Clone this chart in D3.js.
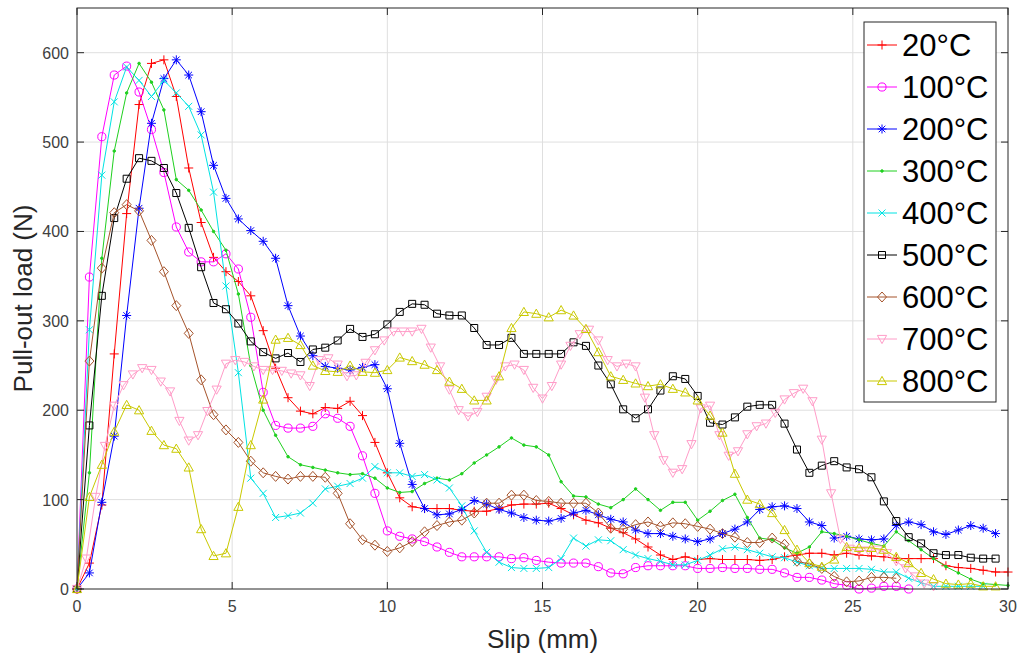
<!DOCTYPE html>
<html>
<head>
<meta charset="utf-8">
<script src="https://cdn.jsdelivr.net/npm/d3@7"></script>
<style>
  body { margin: 0; background: #fff; }
  svg { font-family: "Liberation Sans", Arial, sans-serif; }
</style>
</head>
<body>
<svg id="chart"></svg>
<script>
var width = 1022, height = 662;

// slip readings (mm): most tests logged every 0.4 mm, the 700°C test every 0.3 mm
var slip04 = [0,0.4,0.8,1.2,1.6,2,2.4,2.8,3.2,3.6,4,4.4,4.8,5.2,5.6,6,6.4,6.8,7.2,7.6,
  8,8.4,8.8,9.2,9.6,10,10.4,10.8,11.2,11.6,12,12.4,12.8,13.2,13.6,14,14.4,14.8,15.2,15.6,
  16,16.4,16.8,17.2,17.6,18,18.4,18.8,19.2,19.6,20,20.4,20.8,21.2,21.6,22,22.4,22.8,23.2,23.6,
  24,24.4,24.8,25.2,25.6,26,26.4,26.8,27.2,27.6,28,28.4,28.8,29.2,29.6,30];
var slip03 = [0,0.3,0.6,0.9,1.2,1.5,1.8,2.1,2.4,2.7,3,3.3,3.6,3.9,4.2,4.5,4.8,5.1,5.4,5.7,
  6,6.3,6.6,6.9,7.2,7.5,7.8,8.1,8.4,8.7,9,9.3,9.6,9.9,10.2,10.5,10.8,11.1,11.4,11.7,
  12,12.3,12.6,12.9,13.2,13.5,13.8,14.1,14.4,14.7,15,15.3,15.6,15.9,16.2,16.5,16.8,17.1,17.4,17.7,
  18,18.3,18.6,18.9,19.2,19.5,19.8,20.1,20.4,20.7,21,21.3,21.6,21.9,22.2,22.5,22.8,23.1,23.4,23.7,
  24,24.3,24.6,24.9,25.2,25.5,25.8,26.1,26.4,26.7,27,27.3,27.6];

// pull-out load (N)
var load20 = [0,29,94,263,420,542,588,592,551,471, 410,371,355,344,328,289,247,214,199,196,
  203,202,210,194,164,130,102,92,90,90, 90,88,87,87,90,94,95,95,96,90,
  83,77,74,68,63,56,47,38,33,36, 33,34,33,33,33,32,33,36,38,40,
  40,38,40,38,37,36,34,34,34,34, 26,24,23,21,19,19];
var load100 = [0,349,506,575,585,556,514,466,405,377, 366,366,375,358,304,220,183,180,180,182,
  196,191,182,149,107,65,59,56,53,47, 41,36,36,36,36,34,35,32,30,29,
  29,29,25,18,17,24,26,26,26,26, 23,23,24,23,23,22,22,18,13,13,
  10,6,4,0,1,3,3,0];
var load200 = [0,18,97,171,306,426,521,571,592,575, 534,474,437,414,401,389,370,317,283,261,
  249,247,245,248,251,224,163,117,90,83, 84,89,99,95,89,85,80,77,76,79,
  85,88,83,78,75,66,62,62,59,56, 53,56,62,67,75,89,92,93,90,75,
  71,57,59,56,55,56,71,75,72,64, 61,66,71,68,62];
var load300 = [0,130,370,490,555,588,567,536,458,446, 424,400,379,330,250,200,172,148,139,136,
  133,130,128,129,124,113,108,109,118,124, 122,129,141,150,159,169,161,159,150,120,
  104,103,95,91,100,112,100,88,97,97, 77,87,99,106,80,57,55,46,40,47,
  64,62,59,55,51,48,64,54,44,34, 25,18,11,6,5,4];
var load400 = [0,290,463,545,584,569,551,569,555,540, 508,444,339,242,124,107,80,82,85,96,
  112,115,118,124,137,130,130,126,128,122, 113,93,65,41,30,24,23,23,24,34,
  57,48,55,54,44,38,34,31,27,27, 32,38,45,47,44,40,36,35,30,26,
  23,23,23,23,22,19,19,12,7,3, 3,3,3,3];
var load500 = [0,183,328,415,459,482,479,471,443,404, 360,320,313,297,277,265,258,264,254,268,
  270,278,291,282,285,296,310,319,318,308, 306,306,292,273,273,281,263,263,263,263,
  276,272,250,229,201,191,201,222,238,235, 216,186,184,192,204,206,206,185,156,130,
  138,143,136,134,125,98,76,58,51,40, 38,38,35,34,34];
var load600 = [0,255,359,421,430,423,390,355,317,286, 234,195,178,164,143,130,126,123,126,126,
  125,107,73,55,49,42,46,53,64,71, 75,77,85,96,96,105,105,99,98,96,
  96,96,85,68,67,72,75,70,74,73, 70,67,62,58,52,52,57,50,31,28,
  23,14,8,9,13,13,12];
var load700 = [0,34,103,160,205,228,240,247,245,232, 221,188,166,172,199,223,252,256,254,249,
  245,245,244,241,239,227,256,258,251,238, 239,253,267,278,288,288,288,291,270,249,
  223,200,193,198,215,234,249,251,245,225, 213,227,251,272,285,290,278,256,249,252,
  249,214,172,144,130,134,162,202,205,172, 149,154,173,182,185,197,212,219,224,210,
  167,107,56,45,43,43,44,40,31,23, 14,6,3];
var load800 = [0,103,139,176,206,200,177,161,157,136, 67,37,40,92,161,212,279,281,273,250,
  244,243,250,243,242,245,259,255,251,245, 232,224,211,211,238,292,310,308,304,312,
  306,291,265,238,234,230,227,229,224,220, 211,194,175,129,100,95,85,66,44,29,
  25,33,47,46,46,44,36,29,18,11, 6,5,6,3,3];

var names = ["20°C","100°C","200°C","300°C","400°C","500°C","600°C","700°C","800°C"];
var loads = [load20, load100, load200, load300, load400, load500, load600, load700, load800];
var slips = [slip04, slip04, slip04, slip04, slip04, slip04, slip04, slip03, slip04];
var colors = ["#ff0000","#ff00ff","#0000ff","#1fd01f","#00e3e3","#000000","#a5532b","#ff9cc8","#c9c900"];
var markers = ["plus","circle","star","dot","cross","square","diamond","down","up"];

var xTicks = [0,5,10,15,20,25,30];
var yTicks = [0,100,200,300,400,500,600];

// plot box (window.top is reserved, so no bare "top")
var pLeft = 77, pRight = 1008, pTop = 8, pBottom = 589;

var svg = d3.select("#chart").attr("width", width).attr("height", height);

var x = d3.scaleLinear().domain([0, 30]).range([pLeft, pRight]);
var y = d3.scaleLinear().domain([0, 650]).range([pBottom, pTop]);

// grid
svg.append("g").selectAll("line").data(xTicks.slice(1, -1)).enter().append("line")
  .attr("x1", d => x(d)).attr("x2", d => x(d)).attr("y1", pTop).attr("y2", pBottom)
  .attr("stroke", "#dfdfdf").attr("stroke-width", 1);
svg.append("g").selectAll("line").data(yTicks.slice(1)).enter().append("line")
  .attr("y1", d => y(d)).attr("y2", d => y(d)).attr("x1", pLeft).attr("x2", pRight)
  .attr("stroke", "#dfdfdf").attr("stroke-width", 1);

function markerPath(type) {
  if (type == "plus") return "M-4.5,0H4.5M0,-4.5V4.5";
  if (type == "cross") return "M-3.5,-3.5L3.5,3.5M-3.5,3.5L3.5,-3.5";
  if (type == "star") return "M-4.5,0H4.5M0,-4.5V4.5M-3.3,-3.3L3.3,3.3M-3.3,3.3L3.3,-3.3";
  if (type == "circle") return d3.symbol().type(d3.symbolCircle).size(52)();
  if (type == "square") return "M-3.5,-3.5H3.5V3.5H-3.5Z";
  if (type == "diamond") return "M0,-5L4.5,0L0,5L-4.5,0Z";
  if (type == "down") return "M-4.6,-3.6H4.6L0,4.6Z";
  if (type == "up") return "M-4.6,3.6H4.6L0,-4.6Z";
  return d3.symbol().type(d3.symbolCircle).size(5)();
}

var line = d3.line().x(d => x(d[0])).y(d => y(d[1]));

var plot = svg.append("g");
loads.forEach(function (vals, k) {
  var pts = vals.map((v, i) => [slips[k][i], v]);
  var g = plot.append("g");
  g.append("path").datum(pts)
    .attr("d", line)
    .attr("fill", "none")
    .attr("stroke", colors[k])
    .attr("stroke-width", 1);
  g.selectAll("path.m").data(pts).enter().append("path")
    .attr("class", "m")
    .attr("transform", d => "translate(" + x(d[0]) + "," + y(d[1]) + ")")
    .attr("d", markerPath(markers[k]))
    .attr("fill", markers[k] == "dot" ? colors[k] : "none")
    .attr("stroke", colors[k])
    .attr("stroke-width", 1);
});

// box and ticks
var axisColor = "#262626";
svg.append("rect").attr("x", pLeft).attr("y", pTop)
  .attr("width", pRight - pLeft).attr("height", pBottom - pTop)
  .attr("fill", "none").attr("stroke", axisColor).attr("stroke-width", 1);

var ticks = svg.append("g").attr("stroke", axisColor).attr("stroke-width", 1);
xTicks.forEach(function (t) {
  ticks.append("line").attr("x1", x(t)).attr("x2", x(t)).attr("y1", pBottom).attr("y2", pBottom - 7);
  ticks.append("line").attr("x1", x(t)).attr("x2", x(t)).attr("y1", pTop).attr("y2", pTop + 7);
});
yTicks.forEach(function (t) {
  ticks.append("line").attr("y1", y(t)).attr("y2", y(t)).attr("x1", pLeft).attr("x2", pLeft + 7);
  ticks.append("line").attr("y1", y(t)).attr("y2", y(t)).attr("x1", pRight).attr("x2", pRight - 7);
});

svg.append("g").selectAll("text").data(xTicks).enter().append("text")
  .attr("x", d => x(d)).attr("y", 612)
  .attr("text-anchor", "middle").attr("font-size", 16).attr("fill", "#404040")
  .text(d => d);
svg.append("g").selectAll("text").data(yTicks).enter().append("text")
  .attr("x", 69).attr("y", d => y(d) + 6)
  .attr("text-anchor", "end").attr("font-size", 16).attr("fill", "#404040")
  .text(d => d);

svg.append("text").attr("x", (pLeft + pRight) / 2).attr("y", 648)
  .attr("text-anchor", "middle").attr("font-size", 26).attr("fill", "#262626")
  .text("Slip (mm)");
svg.append("text").attr("transform", "translate(32," + ((pTop + pBottom) / 2) + ") rotate(-90)")
  .attr("text-anchor", "middle").attr("font-size", 26).attr("fill", "#262626")
  .text("Pull-out load (N)");

// legend
var legend = svg.append("g");
legend.append("rect").attr("x", 864).attr("y", 22).attr("width", 132).attr("height", 380)
  .attr("fill", "#fff").attr("stroke", axisColor).attr("stroke-width", 1);
names.forEach(function (n, k) {
  var cy = 45 + 42 * k;
  legend.append("line").attr("x1", 867).attr("x2", 897).attr("y1", cy).attr("y2", cy)
    .attr("stroke", colors[k]).attr("stroke-width", 1);
  legend.append("path").attr("transform", "translate(882," + cy + ")")
    .attr("d", markerPath(markers[k]))
    .attr("fill", markers[k] == "dot" ? colors[k] : "none")
    .attr("stroke", colors[k]).attr("stroke-width", 1);
  legend.append("text").attr("x", 902).attr("y", cy + 11)
    .attr("font-size", 31).attr("fill", "#000").text(n);
});
</script>
</body>
</html>
